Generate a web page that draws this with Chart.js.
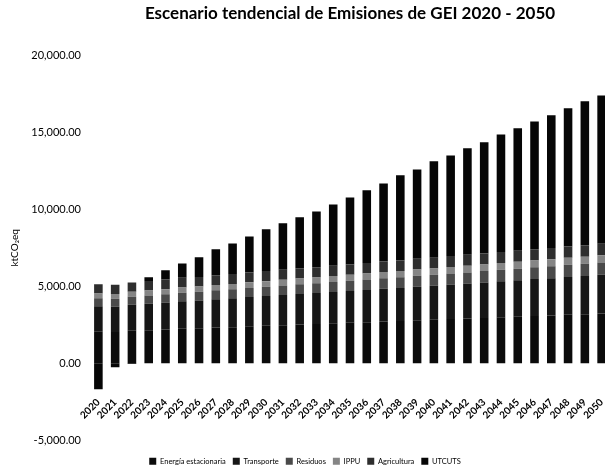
<!DOCTYPE html>
<html>
<head>
<meta charset="utf-8">
<script src="https://cdn.jsdelivr.net/npm/chart.js@4"></script>
<style>
  html, body { margin: 0; padding: 0; background: #fff; overflow: hidden; }
  #wrap { width: 612px; height: 473px; }
</style>
</head>
<body>
<div id="wrap"><canvas id="chart" width="612" height="473"></canvas></div>
<script>
// Data (ktCO2eq)
const years = ["2020","2021","2022","2023","2024","2025","2026","2027","2028","2029","2030",
  "2031","2032","2033","2034","2035","2036","2037","2038","2039","2040",
  "2041","2042","2043","2044","2045","2046","2047","2048","2049","2050"];

const energia = [2050,2040,2110,2150,2190,2240,2270,2320,2350,2400,2440,2470,2520,2550,2600,2630,2670,2720,2750,2800,2830,2880,2910,2950,3000,3030,3080,3110,3160,3190,3240];
const transporte = [1650,1640,1690,1720,1750,1790,1810,1840,1870,1900,1930,1960,1990,2010,2040,2070,2100,2130,2150,2180,2210,2240,2270,2300,2330,2360,2390,2420,2450,2480,2510];
const residuos = [520,515,530,540,548,560,566,580,588,600,606,620,628,640,645,660,668,680,686,700,705,720,726,740,745,760,766,780,786,800,806];
const ippu = [310,300,315,320,328,335,338,345,352,360,362,370,376,380,386,390,394,400,406,410,414,420,426,430,434,440,446,450,454,460,466];
const agricultura = [600,605,610,615,622,625,630,636,640,645,652,655,660,666,670,675,682,685,690,696,700,705,712,715,720,726,730,735,742,745,750];
const utcuts = [-1690,-260,-40,240,600,940,1270,1680,1990,2340,2710,3020,3310,3620,3980,4350,4720,5070,5530,5810,6260,6540,6920,7220,7640,7950,8300,8610,8970,9340,9630];

const yTicks = [-5000, 0, 5000, 10000, 15000, 20000];

const fmt = v => v.toLocaleString("en-US", { minimumFractionDigits: 2, maximumFractionDigits: 2 });

function series(label, data, color) {
  return { label, data, backgroundColor: color, borderWidth: 0, barPercentage: 0.72, categoryPercentage: 0.71 };
}

new Chart(document.getElementById("chart"), {
  type: "bar",
  data: {
    labels: years,
    datasets: [
      series("Energía estacionaria", energia, "#0b0b0b"),
      series("Transporte", transporte, "#161616"),
      series("Residuos", residuos, "#4a4a4a"),
      series("IPPU", ippu, "#858585"),
      series("Agricultura", agricultura, "#2e2e2e"),
      series("UTCUTS", utcuts, "#060606")
    ]
  },
  options: {
    responsive: false,
    animation: false,
    layout: { padding: { left: 0, right: 2, top: 0, bottom: -2 } },
    plugins: {
      title: {
        display: true,
        text: "Escenario tendencial de Emisiones de GEI 2020 - 2050",
        fullSize: false,
        color: "#000",
        font: { family: "Lato", size: 17, weight: "bold" },
        padding: { top: 3, bottom: 32 }
      },
      legend: {
        position: "bottom",
        title: { display: true, text: "", font: { size: 1 }, padding: { top: 0, bottom: 9 } },
        labels: {
          color: "#000",
          boxWidth: 7, boxHeight: 7, padding: 7,
          font: { family: "Lato", size: 7.5 }
        }
      },
      tooltip: { enabled: false }
    },
    scales: {
      x: {
        stacked: true,
        position: { y: 0 },
        afterFit: s => { s.paddingLeft = 0; s.paddingRight = 0; },
        grid: { display: false, drawTicks: false },
        border: { display: false },
        ticks: {
          color: "#000",
          font: { family: "Lato", size: 10, weight: "bold" },
          minRotation: 45, maxRotation: 45,
          padding: 33, autoSkip: false
        }
      },
      y: {
        stacked: true,
        min: -5000, max: 20000,
        afterBuildTicks: s => { s.ticks = yTicks.map(v => ({ value: v })); },
        afterFit: s => { s.width = 90; },
        grid: { display: false, drawTicks: false },
        border: { display: false },
        title: {
          display: true, text: "ktCO₂eq", color: "#000",
          font: { family: "Lato", size: 10 }, padding: { top: 9, bottom: 0 }
        },
        ticks: {
          color: "#000", padding: 9,
          font: { family: "Lato", size: 11 },
          callback: v => fmt(v)
        }
      }
    }
  }
});
</script>
</body>
</html>
